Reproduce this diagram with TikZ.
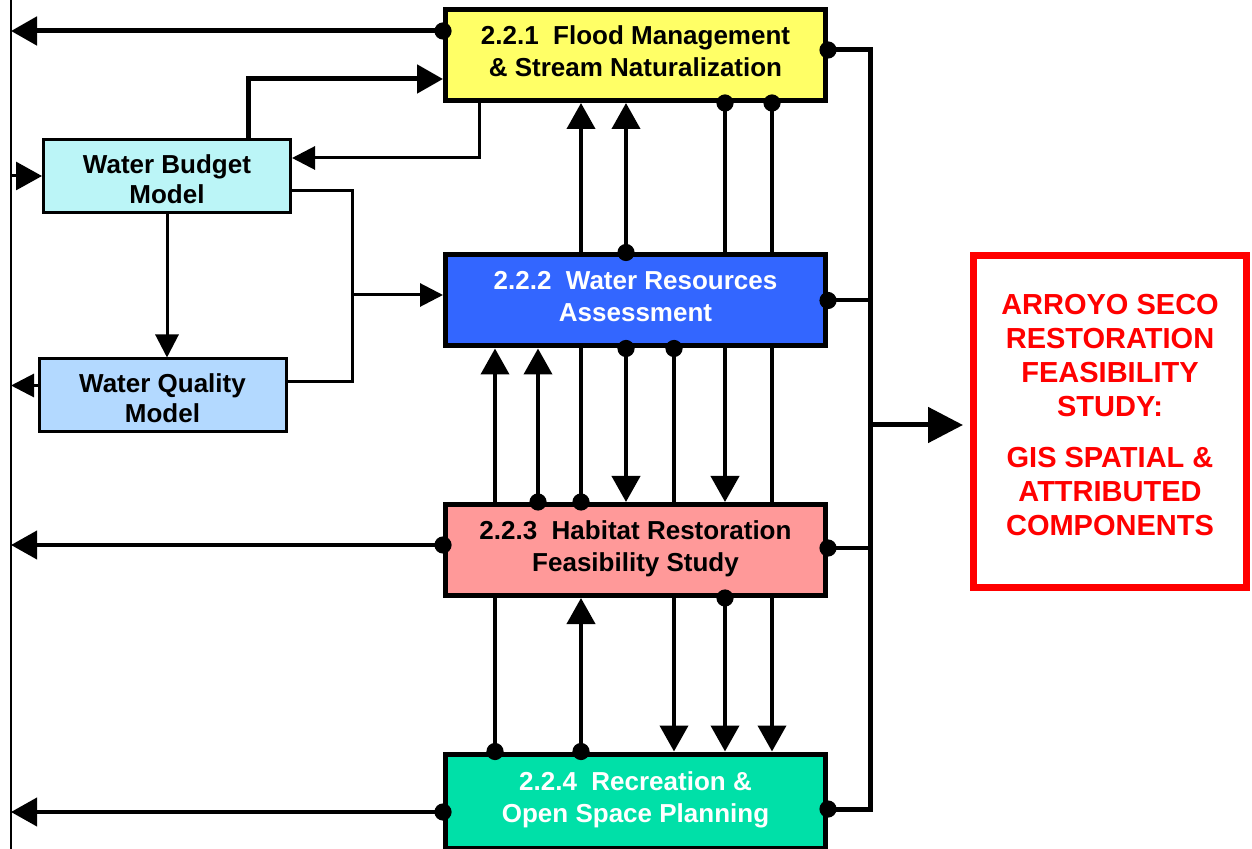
\documentclass[tikz,border=0pt]{standalone}
\usepackage{fontspec}
\setmainfont{Liberation Sans}
\usetikzlibrary{arrows.meta,backgrounds,calc}

\definecolor{floodyellow}{HTML}{FFFF66}
\definecolor{waterblue}{HTML}{3366FF}
\definecolor{habitatpink}{HTML}{FF9999}
\definecolor{recgreen}{HTML}{00E0A8}
\definecolor{budgetcyan}{HTML}{BBF5F7}
\definecolor{qualityblue}{HTML}{B3D9FF}

\tikzset{
	task/.style={draw, line width=2.5pt, minimum width=190pt, minimum height=45.5pt,
		inner sep=0pt, align=center, text depth=4pt, font=\fontsize{13}{16}\selectfont\bfseries},
	model/.style={draw, line width=1.5pt, minimum width=123.5pt, minimum height=36.5pt,
		inner sep=0pt, align=center, text height=27.4pt, font=\fontsize{13}{15}\selectfont\bfseries},
	heavy/.style={line width=2.5pt},
	conn/.style={line width=2pt},
	lite/.style={line width=1.5pt},
	tobig/.style={-{Triangle[length=13pt,width=14pt]}},
	tosmall/.style={-{Triangle[length=11.5pt,width=11.5pt]}},
	tohuge/.style={-{Triangle[length=17.5pt,width=17.5pt]}}
}

\begin{document}
\begin{tikzpicture}[x=0.5pt, y=-0.5pt]
	\useasboundingbox (0,0) rectangle (1252,849);

	% the four tasks
	\node[task, fill=floodyellow] (b221) at (635.5,55) {2.2.1~~Flood Management\\\& Stream Naturalization};
	\node[task, fill=waterblue, text=white] (b222) at (635.5,300.5) {2.2.2~~Water Resources\\Assessment};
	\node[task, fill=habitatpink] (b223) at (635.5,550) {2.2.3~~Habitat Restoration\\Feasibility Study};
	\node[task, fill=recgreen, text=white, minimum height=47pt] (b224) at (635.5,801) {2.2.4~~Recreation \&\\Open Space Planning};

	% models
	\node[model, fill=budgetcyan] (wbm) at (167,176) {Water Budget\\Model};
	\node[model, fill=qualityblue] (wqm) at (162.5,395.5) {Water Quality\\Model};

	% result
	\node[draw=red, line width=3.5pt, minimum width=136.5pt, minimum height=166pt, inner sep=0pt,
		align=center, text=red, text depth=7pt, font=\fontsize{14.5}{17}\selectfont\bfseries] (study) at (1110,421.5)
		{ARROYO SECO\\RESTORATION\\FEASIBILITY\\STUDY:\\[8.5pt]GIS SPATIAL \&\\ATTRIBUTED\\COMPONENTS};

	\coordinate (railtop) at (11,0);
	\coordinate (railbot) at (11,849);
	\coordinate (bus) at (870,425);
	\coordinate (split) at (352,295);
	\foreach \n/\x in {1/495,2/538,3/581,4/626,5/674,6/725,7/772}
		\coordinate (k\n) at (\x,0);

	\begin{scope}[on background layer]
	\draw[line width=0.9pt] (railtop) -- (railbot);

	% out to the left rail
	\draw[heavy, tobig] ([yshift=12pt]b221.west) coordinate (o1) -- (o1 -| railtop);
	\draw[conn, tobig] ([yshift=2.5pt]b223.west) coordinate (o3) -- (o3 -| railtop);
	\draw[conn, tobig] ([yshift=-5.5pt]b224.west) coordinate (o4) -- (o4 -| railtop);
	\draw[lite, tosmall] ([yshift=5pt]wqm.west) coordinate (o2) -- (o2 -| railtop);
	\draw[lite, tobig] (wbm.west -| railtop) -- (wbm.west);

	% models and tasks
	\draw[heavy, tobig] ([xshift=40.5pt]wbm.north) |- ([yshift=-12pt]b221.west);
	\draw[lite, tosmall] ([xshift=18pt]b221.south west) |- ([yshift=9pt]wbm.east);
	\draw[lite, tosmall] (wbm.south) -- (wbm.south |- wqm.north);
	\draw[lite] ([yshift=-7.5pt]wbm.east) -| (split) |- ([yshift=7pt]wqm.east);
	\draw[lite, tosmall] (split) -- (split -| b222.west);

	% between the tasks
	\draw[conn, tobig] (b223.north -| k3) -- (b221.south -| k3);
	\draw[conn, tobig] (b222.north -| k4) -- (b221.south -| k4);
	\draw[conn, tobig] (b221.south -| k6) -- (b223.north -| k6);
	\draw[conn, tobig] (b221.south -| k7) -- (b224.north -| k7);
	\draw[conn, tobig] (b224.north -| k1) -- (b222.south -| k1);
	\draw[conn, tobig] (b223.north -| k2) -- (b222.south -| k2);
	\draw[conn, tobig] (b222.south -| k4) -- (b223.north -| k4);
	\draw[conn, tobig] (b222.south -| k5) -- (b224.north -| k5);
	\draw[conn, tobig] (b224.north -| k3) -- (b223.south -| k3);
	\draw[conn, tobig] (b223.south -| k6) -- (b224.north -| k6);

	% bus to the study
	\draw[heavy] ([yshift=2.5pt]b221.east) -| (bus) |- ([yshift=-4pt]b224.east);
	\draw[conn] (b222.east) -- (b222.east -| bus);
	\draw[conn] ([yshift=1pt]b223.east) coordinate (e3) -- (e3 -| bus);
	\draw[heavy, tohuge] (bus) -- ([xshift=-3.5pt]study.west |- bus);
	\end{scope}

	% junction dots
	\foreach \a/\k in {b221.south/k6, b221.south/k7, b222.north/k4, b222.south/k4, b222.south/k5,
		b223.north/k2, b223.north/k3, b223.south/k6, b224.north/k1, b224.north/k3}
		\fill (\a -| \k) circle (4.3pt);
	\foreach \a/\s in {b221.west/12pt, b223.west/2.5pt, b224.west/-5.5pt,
		b221.east/2.5pt, b222.east/0pt, b223.east/1pt, b224.east/-4pt}
		\fill ([yshift=\s]\a) circle (4.3pt);
\end{tikzpicture}
\end{document}
